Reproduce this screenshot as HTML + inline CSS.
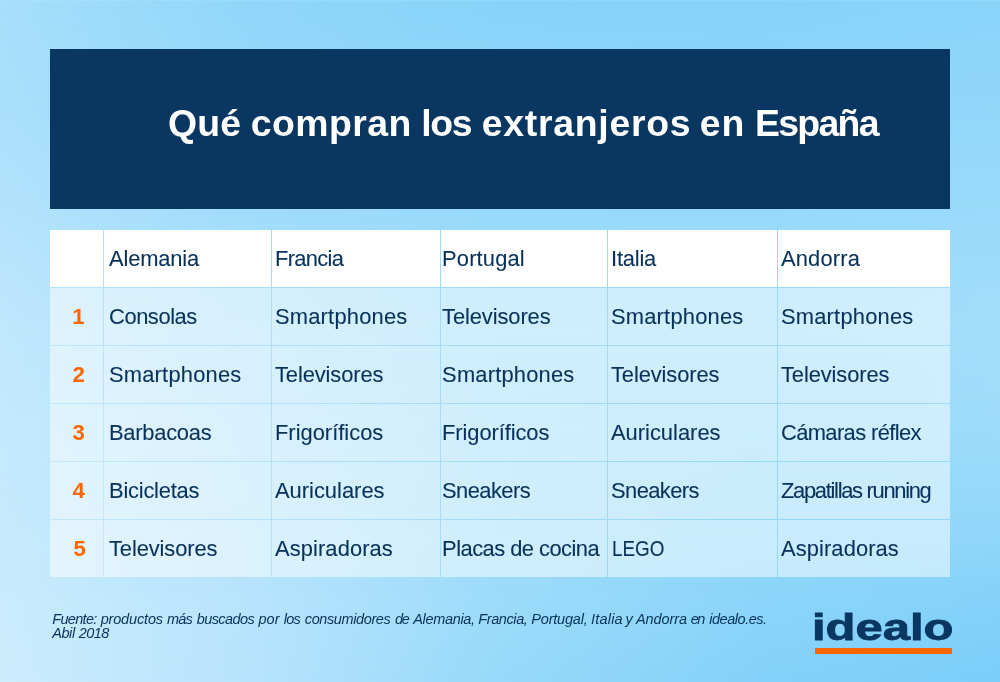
<!DOCTYPE html>
<html lang="es"><head><meta charset="utf-8"><title>Qué compran los extranjeros en España</title>
<style>
html,body{margin:0;padding:0}
body{width:1000px;height:682px;overflow:hidden;position:relative;font-family:"Liberation Sans", sans-serif;background:#a0dcfb}
.bg{position:absolute;left:0;width:1000px}
.bg i{position:absolute;left:0;top:0;width:100%;height:100%;-webkit-mask-image:linear-gradient(to bottom,#000,rgba(0,0,0,0));mask-image:linear-gradient(to bottom,#000,rgba(0,0,0,0))}
.edge{position:absolute;left:0;top:0;width:1000px;height:1px;background:rgba(255,255,255,.1)}
.hdr{position:absolute;left:50px;top:49px;width:900px;height:160px;background:#0a3761}
.title{position:absolute;left:169px;top:99.4px;margin:0;font-size:37.4px;line-height:48px;font-weight:bold;color:#fff;white-space:nowrap}
.tbl{position:absolute;left:49px;top:229px;width:902px;table-layout:fixed;border-collapse:separate;border-spacing:1px;margin:0;padding:0}
.tbl td,.tbl th{box-sizing:border-box;height:57px;padding:14.80px 0 0 0;vertical-align:top;text-align:left;font-weight:normal;font-size:21.9px;line-height:28px;color:#09325a;-webkit-text-stroke:.1px #09325a;white-space:nowrap;overflow:visible;background:rgba(255,255,255,.5)}
.tbl .h th{background:#fff}
.tbl .n{font-size:22.2px;color:#ff6600;font-weight:bold;-webkit-text-stroke:0}
.src{position:absolute;left:52px;top:613px;margin:0;font-size:14.5px;line-height:13.7px;font-style:italic;color:#09325a;white-space:nowrap}
.logo{position:absolute;left:811.9px;top:607.6px;margin:0;font-size:36.1px;line-height:40px;font-weight:bold;color:#0a3761;white-space:nowrap;transform-origin:0 0;transform:scaleX(1.357);-webkit-text-stroke:.8px #0a3761;font-family:"Liberation Sans",sans-serif}
.bar{position:absolute;left:815px;top:648px;width:137px;height:6px;background:#ff6600}
</style></head><body>
<div class="bg" style="top:0px;height:120px;background:linear-gradient(90deg,#abe0fb 0%,#98d9fa 25%,#90d6fa 50%,#8fd6fa 75%,#93d7fa 100%)"><i style="background:linear-gradient(90deg,#a6defb 0%,#90d6fa 25%,#86d3f9 50%,#85d2f9 75%,#89d4fa 100%)"></i></div>
<div class="bg" style="top:120px;height:99px;background:linear-gradient(90deg,#b4e3fc 0%,#a1dcfb 25%,#99d9fa 50%,#98d9fa 75%,#9bdafb 100%)"><i style="background:linear-gradient(90deg,#abe0fb 0%,#98d9fa 25%,#90d6fa 50%,#8fd6fa 75%,#93d7fa 100%)"></i></div>
<div class="bg" style="top:219px;height:101px;background:linear-gradient(90deg,#bfe7fc 0%,#ace0fb 25%,#9edbfb 50%,#9ddbfb 75%,#a3ddfb 100%)"><i style="background:linear-gradient(90deg,#b4e3fc 0%,#a1dcfb 25%,#99d9fa 50%,#98d9fa 75%,#9bdafb 100%)"></i></div>
<div class="bg" style="top:320px;height:93px;background:linear-gradient(90deg,#c4e9fd 0%,#b1e2fc 25%,#a1dcfb 50%,#9adafa 75%,#a0dcfb 100%)"><i style="background:linear-gradient(90deg,#bfe7fc 0%,#ace0fb 25%,#9edbfb 50%,#9ddbfb 75%,#a3ddfb 100%)"></i></div>
<div class="bg" style="top:413px;height:116px;background:linear-gradient(90deg,#c8eafd 0%,#b5e3fc 25%,#9fdcfb 50%,#94d8fa 75%,#91d7fa 100%)"><i style="background:linear-gradient(90deg,#c4e9fd 0%,#b1e2fc 25%,#a1dcfb 50%,#9adafa 75%,#a0dcfb 100%)"></i></div>
<div class="bg" style="top:529px;height:65px;background:linear-gradient(90deg,#caebfd 0%,#b7e4fc 25%,#9ddbfb 50%,#8cd5fa 75%,#85d2f9 100%)"><i style="background:linear-gradient(90deg,#c8eafd 0%,#b5e3fc 25%,#9fdcfb 50%,#94d8fa 75%,#91d7fa 100%)"></i></div>
<div class="bg" style="top:594px;height:88px;background:linear-gradient(90deg,#ceecfd 0%,#b7e4fc 25%,#97d9fa 50%,#84d2f9 75%,#7acef9 100%)"><i style="background:linear-gradient(90deg,#caebfd 0%,#b7e4fc 25%,#9ddbfb 50%,#8cd5fa 75%,#85d2f9 100%)"></i></div>
<div class="edge"></div>
<div class="hdr"></div>
<h1 class="title" id="title" style="left:167.60px"><span id="t_0" style="position:absolute;left:0.49px;letter-spacing:0.125px">Qué</span> <span id="t_1" style="position:absolute;left:83.12px;letter-spacing:0.458px">compran</span> <span id="t_2" style="position:absolute;left:253.78px;letter-spacing:-1.375px">los</span> <span id="t_3" style="position:absolute;left:314.18px;letter-spacing:0.725px">extranjeros</span> <span id="t_4" style="position:absolute;left:532.26px;letter-spacing:0.800px">en</span> <span id="t_5" style="position:absolute;left:587.42px;letter-spacing:-1.700px">España</span></h1>
<table class="tbl"><colgroup><col style="width:53px"><col style="width:167px"><col style="width:168px"><col style="width:166px"><col style="width:169px"><col style="width:172px"></colgroup>
<tr class="h"><th class="n" id="n0" style="padding-left:22.50px"></th><th id="c0_0" style="padding-left:5.00px;letter-spacing:-0.143px">Alemania</th><th id="c0_1" style="padding-left:3.00px;letter-spacing:-0.667px">Francia</th><th id="c0_2" style="padding-left:1.10px;letter-spacing:0.143px">Portugal</th><th id="c0_3" style="padding-left:3.00px;letter-spacing:-0.200px">Italia</th><th id="c0_4" style="padding-left:3.00px;letter-spacing:0.167px">Andorra</th></tr>
<tr><td class="n" id="n1" style="padding-left:22.30px">1</td><td id="c1_0" style="padding-left:5.00px;letter-spacing:-0.429px">Consolas</td><td id="c1_1" style="padding-left:3.00px;letter-spacing:0.200px">Smartphones</td><td id="c1_2" style="padding-left:1.10px;letter-spacing:-0.100px">Televisores</td><td id="c1_3" style="padding-left:3.00px;letter-spacing:0.200px">Smartphones</td><td id="c1_4" style="padding-left:3.00px;letter-spacing:0.200px">Smartphones</td></tr>
<tr><td class="n" id="n2" style="padding-left:22.50px">2</td><td id="c2_0" style="padding-left:5.00px;letter-spacing:0.200px">Smartphones</td><td id="c2_1" style="padding-left:3.00px;letter-spacing:-0.100px">Televisores</td><td id="c2_2" style="padding-left:1.10px;letter-spacing:0.200px">Smartphones</td><td id="c2_3" style="padding-left:3.00px;letter-spacing:-0.100px">Televisores</td><td id="c2_4" style="padding-left:3.00px;letter-spacing:-0.100px">Televisores</td></tr>
<tr><td class="n" id="n3" style="padding-left:22.50px">3</td><td id="c3_0" style="padding-left:5.00px;letter-spacing:-0.250px">Barbacoas</td><td id="c3_1" style="padding-left:3.00px;letter-spacing:0.000px">Frigoríficos</td><td id="c3_2" style="padding-left:1.10px;letter-spacing:-0.091px">Frigoríficos</td><td id="c3_3" style="padding-left:3.00px;letter-spacing:0.000px">Auriculares</td><td id="c3_4" style="padding-left:3.00px;letter-spacing:-0.615px">Cámaras réflex</td></tr>
<tr><td class="n" id="n4" style="padding-left:22.50px">4</td><td id="c4_0" style="padding-left:5.00px;letter-spacing:-0.222px">Bicicletas</td><td id="c4_1" style="padding-left:3.00px;letter-spacing:0.000px">Auriculares</td><td id="c4_2" style="padding-left:1.10px;letter-spacing:-0.571px">Sneakers</td><td id="c4_3" style="padding-left:3.00px;letter-spacing:-0.571px">Sneakers</td><td id="c4_4" style="padding-left:3.00px;letter-spacing:-1.294px">Zapatillas running</td></tr>
<tr><td class="n" id="n5" style="padding-left:23.50px">5</td><td id="c5_0" style="padding-left:5.00px;letter-spacing:-0.100px">Televisores</td><td id="c5_1" style="padding-left:3.00px;letter-spacing:0.100px">Aspiradoras</td><td id="c5_2" style="padding-left:1.10px;letter-spacing:-0.533px">Placas de cocina</td><td id="c5_3" style="padding-left:4.00px"><span style="display:inline-block;transform-origin:0 50%;transform:scaleX(0.8624)">LEGO</span></td><td id="c5_4" style="padding-left:3.00px;letter-spacing:0.100px">Aspiradoras</td></tr>
</table>
<p class="src" id="src" style="left:52.20px"><span id="s1_0" style="position:absolute;top:0px;left:-0.01px;letter-spacing:-0.667px">Fuente:</span> <span id="s1_1" style="position:absolute;top:0px;left:48.44px;letter-spacing:-0.156px">productos</span> <span id="s1_2" style="position:absolute;top:0px;left:114.72px;letter-spacing:-0.750px">más</span> <span id="s1_3" style="position:absolute;top:0px;left:144.47px;letter-spacing:-0.571px">buscados</span> <span id="s1_4" style="position:absolute;top:0px;left:206.19px;letter-spacing:0.125px">por</span> <span id="s1_5" style="position:absolute;top:0px;left:231.53px;letter-spacing:-0.750px">los</span> <span id="s1_6" style="position:absolute;top:0px;left:252.60px;letter-spacing:-0.386px">consumidores</span> <span id="s1_7" style="position:absolute;top:0px;left:342.69px;letter-spacing:-1.250px">de</span> <span id="s1_8" style="position:absolute;top:0px;left:361.11px;letter-spacing:-0.344px">Alemania,</span> <span id="s1_9" style="position:absolute;top:0px;left:426.08px;letter-spacing:-0.393px">Francia,</span> <span id="s1_10" style="position:absolute;top:0px;left:479.10px;letter-spacing:-0.188px">Portugal,</span> <span id="s1_11" style="position:absolute;top:0px;left:538.83px;letter-spacing:0.200px">Italia</span> <span id="s1_12" style="position:absolute;top:0px;left:573.22px;letter-spacing:0.000px">y</span> <span id="s1_13" style="position:absolute;top:0px;left:583.80px;letter-spacing:-0.083px">Andorra</span> <span id="s1_14" style="position:absolute;top:0px;left:638.44px;letter-spacing:-1.500px">en</span> <span id="s1_15" style="position:absolute;top:0px;left:657.10px;letter-spacing:-0.472px">idealo.es.</span><br><span id="s2_0" style="position:absolute;top:13.7px;left:-0.01px;letter-spacing:-0.417px">Abil</span> <span id="s2_1" style="position:absolute;top:13.7px;left:26.58px;letter-spacing:-0.583px">2018</span></p>
<p class="logo" id="logo">idealo</p>
<div class="bar"></div>
</body></html>
